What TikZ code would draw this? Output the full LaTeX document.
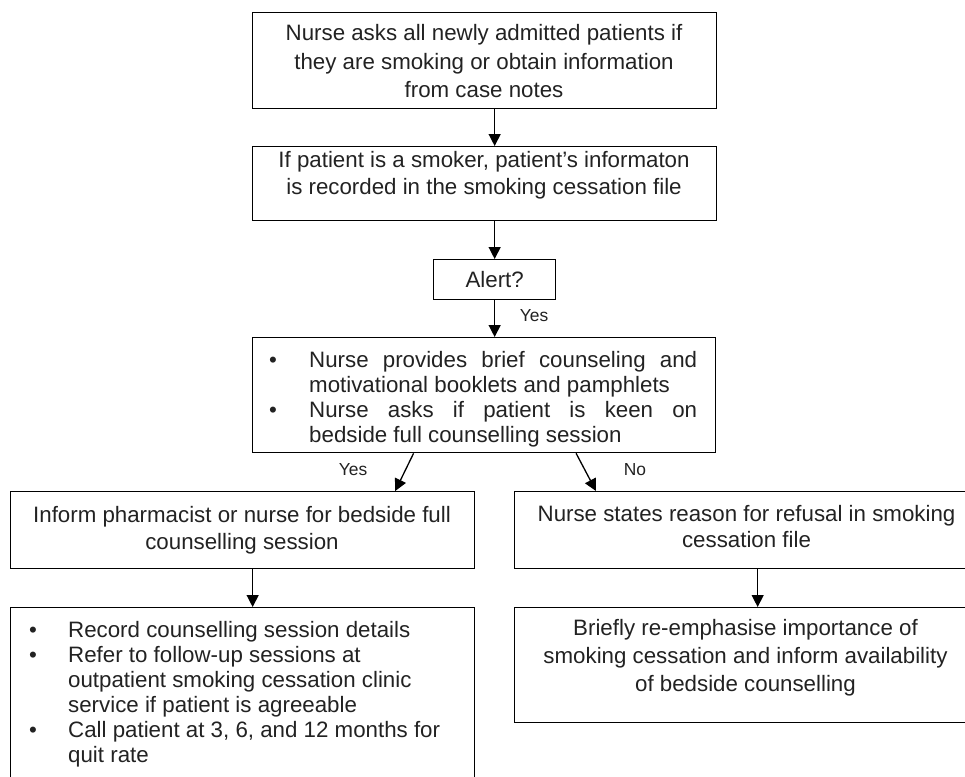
\documentclass[tikz,border=0pt]{standalone}
\usepackage{fontspec}
\setmainfont{Liberation Sans}
\usetikzlibrary{arrows.meta,calc}
\definecolor{textc}{HTML}{222222}
\tikzset{
  box/.style={draw=black, line width=1.3pt, inner sep=0pt, anchor=north west},
  txt/.style={inner sep=0pt, text=textc, font=\fontsize{22.3}{#1}\selectfont, align=center},
  txt/.default=28,
  lab/.style={inner sep=0pt, text=textc, font=\fontsize{17.4}{20}\selectfont},
  arr/.style={line width=1.3pt, -{Triangle[length=12pt,width=12pt]}}
}
\begin{document}
\begin{tikzpicture}[x=1pt,y=-1pt]
\useasboundingbox (0,0) rectangle (965,776);
\clip (0,0) rectangle (965,776);
% boxes
\node[box, minimum width=464pt, minimum height=96pt] (b1) at (252,12) {};
\node[box, minimum width=464pt, minimum height=74pt] (b2) at (252,146) {};
\node[box, minimum width=122pt, minimum height=40pt] (al) at (433,259) {};
\node[box, minimum width=463pt, minimum height=115pt] (b4) at (252,337) {};
\node[box, minimum width=464.5pt, minimum height=77pt] (l5) at (9.5,491) {};
\node[box, minimum width=470pt, minimum height=77pt] (r5) at (514,491) {};
\node[box, minimum width=464.5pt, minimum height=190pt] (l6) at (9.5,607) {};
\node[box, minimum width=470pt, minimum height=115pt] (r6) at (514,607) {};
% texts
\node[txt=28.7, anchor=north] (t1) at (484,24) {Nurse asks all newly admitted patients if\\they are smoking or obtain information\\from case notes};
\node[txt=27, anchor=north] (t2) at (484,151) {If patient is a smoker, patient’s informaton\\is recorded in the smoking cessation file};
\node[txt] (t3) at (al.center) {Alert?};
\node[txt=25, anchor=north west, align=left] (t4) at (269,351) {\makebox[40pt][l]{•}\makebox[388pt][s]{Nurse provides brief counseling and}\\
\hspace*{40pt}motivational booklets and pamphlets\\
\makebox[40pt][l]{•}\makebox[388pt][s]{Nurse asks if patient is keen on}\\
\hspace*{40pt}bedside full counselling session};
\node[txt=27, anchor=north] (t5) at (242,506) {Inform pharmacist or nurse for bedside full\\counselling session};
\node[txt=26, anchor=north] (t6) at (746.5,505) {Nurse states reason for refusal in smoking\\cessation file};
\node[txt=25, anchor=north west, align=left] (t7) at (29,621) {\makebox[39pt][l]{•}Record counselling session details\\
\makebox[39pt][l]{•}Refer to follow-up sessions at\\
\hspace*{39pt}outpatient smoking cessation clinic\\
\hspace*{39pt}service if patient is agreeable\\
\makebox[39pt][l]{•}Call patient at 3, 6, and 12 months for\\
\hspace*{39pt}quit rate};
\node[txt=28, anchor=north] (t8) at (745.5,619) {Briefly re-emphasise importance of\\smoking cessation and inform availability\\of bedside counselling};
% arrows
\draw[arr] (al |- b1.south) -- (al |- b2.north);
\draw[arr] (al |- b2.south) -- (al.north);
\draw[arr] (al.south) -- (al |- b4.north);
\draw[arr] ($(b4.south west)!0.348!(b4.south east)$) -- ($(l5.north west)!0.828!(l5.north east)$);
\draw[arr] ($(b4.south west)!0.698!(b4.south east)$) -- ($(r5.north west)!0.174!(r5.north east)$);
\draw[arr] ($(l5.south west)!0.522!(l5.south east)$) -- ($(l6.north west)!0.522!(l6.north east)$);
\draw[arr] ($(r5.south west)!0.517!(r5.south east)$) -- ($(r6.north west)!0.517!(r6.north east)$);
% labels
\node[lab] (y1) at (534,316) {Yes};
\node[lab] (y2) at (353,470) {Yes};
\node[lab] (n1) at (635,470) {No};
\end{tikzpicture}
\end{document}
